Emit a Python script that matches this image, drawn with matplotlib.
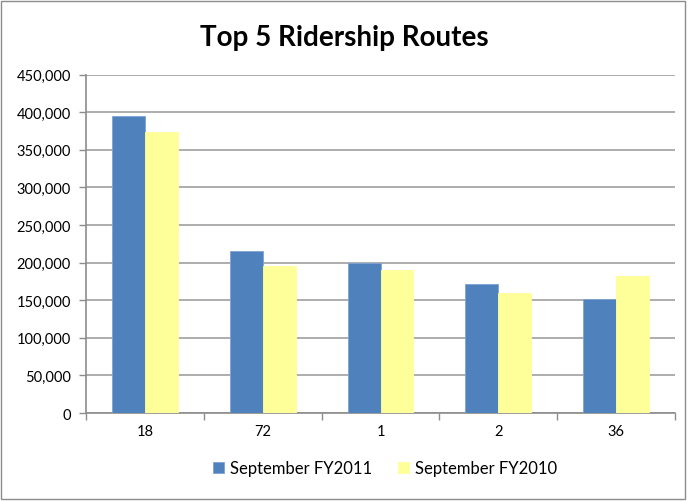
import matplotlib.pyplot as plt
import numpy as np
from matplotlib.patches import Rectangle
from matplotlib.ticker import FuncFormatter

# Route data
routes = ['18', '72', '1', '2', '36']
fy2011 = [394500, 215500, 199500, 171500, 151000]
fy2010 = [373500, 195000, 189500, 159000, 182000]
series_names = ['September FY2011', 'September FY2010']
colors = ['#4F81BD', '#FFFF99']

plt.rcParams['font.family'] = ['Lato', 'DejaVu Sans']

fig = plt.figure(figsize=(6.88, 5.02), dpi=100)
ax = fig.add_axes([86 / 688, 1 - 414 / 502, (675 - 86) / 688, (414 - 75.5) / 502])

# outer chart border
fig.patches.append(Rectangle((0.002, 0.003), 0.994, 0.994, transform=fig.transFigure,
                             fill=False, edgecolor='#8c8c8c', linewidth=1))

x = np.arange(len(routes))
w = 0.28
ax.bar(x - w / 2, fy2011, w, color=colors[0], edgecolor='#7ea3d4', linewidth=0.6,
       label=series_names[0], zorder=3)
ax.bar(x + w / 2, fy2010, w, color=colors[1], edgecolor=colors[1], linewidth=0.6,
       label=series_names[1], zorder=3)

ax.set_xlim(-0.5, len(routes) - 0.5)
ax.set_ylim(0, 450000)
ax.set_yticks(np.arange(0, 450001, 50000))
ax.yaxis.set_major_formatter(FuncFormatter(lambda v, p: f'{int(v):,}'))
ax.grid(axis='y', color='#a0a0a0', linewidth=1.2, zorder=0)

# category labels, tick marks at the boundaries
ax.set_xticks(np.arange(-0.5, len(routes)), labels=[''] * (len(routes) + 1))
ax.set_xticks(x, labels=routes, minor=True)
ax.tick_params(axis='x', which='minor', length=0, pad=8, labelsize=10.5)
ax.tick_params(axis='x', which='major', length=5, color='#8c8c8c', width=1)
ax.tick_params(axis='y', length=5, color='#8c8c8c', width=1, labelsize=10.5, pad=6)

for s in ['top', 'right']:
    ax.spines[s].set_visible(False)
for s in ['left', 'bottom']:
    ax.spines[s].set_color('#8c8c8c')
    ax.spines[s].set_linewidth(1.2)

fig.text(0.5, 1 - 38 / 502, 'Top 5 Ridership Routes', ha='center', va='center',
         fontsize=20, fontweight='bold')

# legend sits under the plot area, a little right of the figure centre
fig.legend(loc='center', bbox_to_anchor=(385 / 688, 1 - 469 / 502), ncol=2, frameon=False,
           fontsize=12, handlelength=0.65, handleheight=0.65, columnspacing=1.6,
           handletextpad=0.35)

fig.savefig('out.png', dpi=100)
